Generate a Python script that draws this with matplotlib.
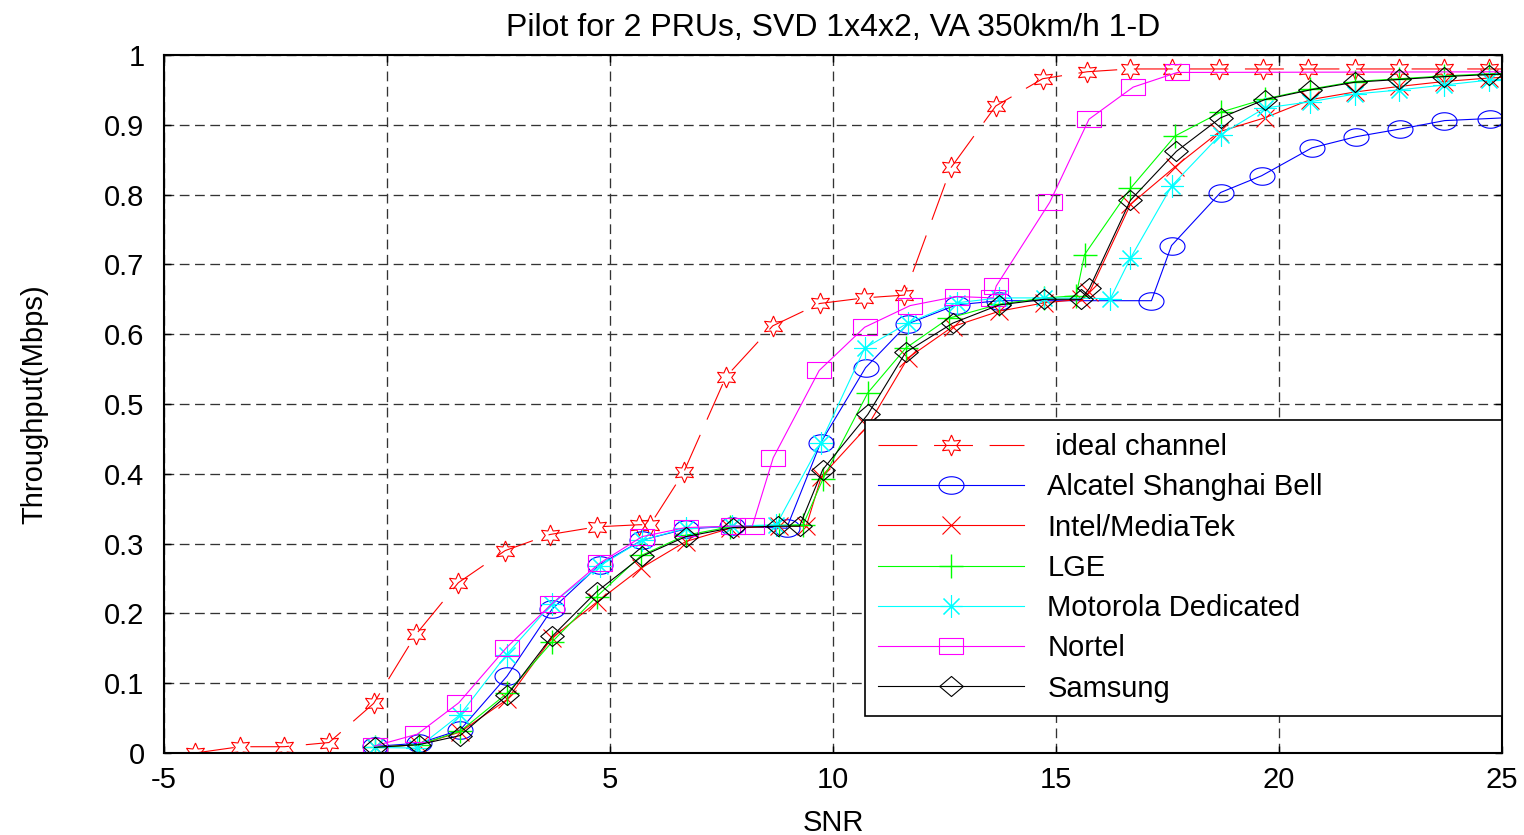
import numpy as np
import matplotlib
matplotlib.use('Agg')
import matplotlib.pyplot as plt
from matplotlib.path import Path

plt.rcParams['font.family'] = ['Liberation Sans', 'DejaVu Sans']
plt.rcParams['lines.scale_dashes'] = False

# ---- data ----
ideal_x = [-4.3, -3.3, -2.3, -1.3, -0.3, 0.65, 1.6, 2.65, 3.65, 4.7, 5.65, 5.9, 6.65,
           7.6, 8.65, 9.7, 10.7, 11.6, 12.65, 13.65, 14.7, 15.7, 16.65, 17.6, 18.65,
           19.65, 20.65, 21.7, 22.7, 23.7, 24.7, 25.7]
ideal_y = [0.0, 0.009, 0.009, 0.015, 0.071, 0.17, 0.244, 0.29, 0.313, 0.324, 0.327, 0.327,
           0.402, 0.539, 0.612, 0.644, 0.652, 0.656, 0.839, 0.927, 0.966, 0.976, 0.98,
           0.98, 0.98, 0.98, 0.98, 0.98, 0.98, 0.98, 0.98, 0.98]

alcatel_x = [-0.28, 0.72, 1.64, 2.69, 3.7, 4.77, 5.72, 6.7, 7.74, 8.96, 9.72, 10.73, 11.68,
             12.77, 13.73, 17.14, 17.59, 18.69, 19.61, 20.74, 21.73, 22.72, 23.71, 24.72, 25.72]
alcatel_y = [0.0095, 0.014, 0.033, 0.11, 0.206, 0.27, 0.305, 0.321, 0.325, 0.322, 0.444, 0.552,
             0.615, 0.642, 0.648, 0.648, 0.727, 0.803, 0.827, 0.867, 0.883, 0.894, 0.906, 0.909, 0.912]

intel_x = [-0.28, 0.72, 1.64, 2.7, 3.7, 4.7, 5.7, 6.7, 7.7, 8.8, 9.4, 9.74, 10.77, 11.68,
           12.69, 13.73, 14.74, 15.56, 15.75, 16.67, 17.67, 18.66, 19.68, 20.7, 21.7, 22.7,
           23.7, 24.7, 25.7]
intel_y = [0.008, 0.012, 0.03, 0.077, 0.165, 0.216, 0.265, 0.303, 0.322, 0.325, 0.325, 0.396,
           0.468, 0.566, 0.611, 0.633, 0.645, 0.65, 0.66, 0.786, 0.84, 0.89, 0.91, 0.936,
           0.947, 0.955, 0.962, 0.967, 0.97]

lge_x = [-0.28, 0.72, 1.64, 2.7, 3.7, 4.7, 5.7, 6.7, 7.7, 8.8, 9.33, 9.77, 10.78, 11.63,
         12.6, 13.73, 14.74, 15.45, 15.64, 16.67, 17.67, 18.69, 19.68, 20.7, 21.7, 22.7,
         23.7, 24.7, 25.7]
lge_y = [0.008, 0.012, 0.031, 0.086, 0.159, 0.224, 0.283, 0.312, 0.324, 0.326, 0.327, 0.392,
         0.516, 0.58, 0.623, 0.643, 0.652, 0.655, 0.714, 0.809, 0.884, 0.918, 0.937, 0.951,
         0.962, 0.966, 0.97, 0.973, 0.975]

moto_x = [-0.28, 0.68, 1.64, 2.68, 3.7, 4.77, 5.72, 6.7, 7.74, 8.73, 9.72, 10.71, 11.68,
          12.77, 13.73, 14.74, 16.22, 16.67, 17.6, 18.69, 19.68, 20.7, 21.7, 22.7, 23.7,
          24.7, 25.7]
moto_y = [0.008, 0.007, 0.055, 0.141, 0.214, 0.268, 0.305, 0.322, 0.325, 0.327, 0.444, 0.58,
          0.616, 0.645, 0.652, 0.652, 0.651, 0.709, 0.813, 0.886, 0.924, 0.933, 0.944, 0.95,
          0.957, 0.964, 0.968]

nortel_x = [-0.28, 0.68, 1.61, 2.68, 3.7, 4.77, 5.72, 6.7, 7.76, 8.19, 8.66, 9.69, 10.71,
            11.73, 12.77, 13.59, 13.66, 14.86, 15.74, 16.73, 17.72, 25.7]
nortel_y = [0.01, 0.027, 0.072, 0.151, 0.214, 0.272, 0.31, 0.323, 0.325, 0.325, 0.423, 0.548,
            0.61, 0.641, 0.654, 0.652, 0.669, 0.789, 0.908, 0.954, 0.975, 0.976]

samsung_x = [-0.28, 0.72, 1.64, 2.7, 3.7, 4.7, 5.72, 6.7, 7.76, 8.77, 9.25, 9.77, 10.78,
             11.63, 12.69, 13.73, 14.74, 15.56, 15.75, 16.67, 17.7, 18.69, 19.68, 20.7,
             21.7, 22.7, 23.7, 24.7, 25.7]
samsung_y = [0.008, 0.012, 0.025, 0.083, 0.167, 0.231, 0.282, 0.31, 0.323, 0.325, 0.325, 0.406,
             0.485, 0.574, 0.616, 0.642, 0.65, 0.65, 0.666, 0.792, 0.862, 0.91, 0.936, 0.95,
             0.961, 0.965, 0.969, 0.972, 0.974]

labels = [' ideal channel', 'Alcatel Shanghai Bell', 'Intel/MediaTek', 'LGE',
          'Motorola Dedicated', 'Nortel', 'Samsung']
xticks = [-5, 0, 5, 10, 15, 20, 25]
xticklabels = ['-5', '0', '5', '10', '15', '20', '25']
yticks = [0, 0.1, 0.2, 0.3, 0.4, 0.5, 0.6, 0.7, 0.8, 0.9, 1]
yticklabels = ['0', '0.1', '0.2', '0.3', '0.4', '0.5', '0.6', '0.7', '0.8', '0.9', '1']

# ---- stretched markers like the matlab export ----
t = np.linspace(0, 2 * np.pi, 60)
ellipse = Path(np.column_stack([np.cos(t), 0.7 * np.sin(t)]), closed=True)
rect = Path([(-1, -0.66), (1, -0.66), (1, 0.66), (-1, 0.66), (-1, -0.66)], closed=True)
diamond = Path([(0, -0.85), (1, 0), (0, 0.85), (-1, 0), (0, -0.85)], closed=True)

fig = plt.figure(figsize=(15.24, 8.35), dpi=100)
ax = fig.add_axes([164 / 1524, 1 - 753 / 835, (1502 - 164) / 1524, (753 - 55) / 835])

lw = 0.8
mew = 0.8
ax.plot(ideal_x, ideal_y, color='red', lw=lw, linestyle=(0, (28, 12)),
        marker=(6, 1, 0), ms=15, mfc='none', mec='red', mew=mew, label=labels[0])
ax.plot(alcatel_x, alcatel_y, color='blue', lw=lw, marker=ellipse, ms=18,
        mfc='none', mec='blue', mew=mew, label=labels[1])
ax.plot(intel_x, intel_y, color='red', lw=lw, marker='x', ms=13,
        mec='red', mew=mew, label=labels[2])
ax.plot(lge_x, lge_y, color='#00ff00', lw=lw, marker='+', ms=17,
        mec='#00ff00', mew=1.0, label=labels[3])
ax.plot(moto_x, moto_y, color='cyan', lw=lw, marker=(8, 2, 0), ms=16,
        mec='cyan', mew=mew, label=labels[4])
ax.plot(nortel_x, nortel_y, color='magenta', lw=lw, marker=rect, ms=17,
        mfc='none', mec='magenta', mew=mew, label=labels[5])
ax.plot(samsung_x, samsung_y, color='black', lw=lw, marker=diamond, ms=17,
        mfc='none', mec='black', mew=mew, label=labels[6])

ax.set_xlim(-5, 25)
ax.set_ylim(0, 1)
ax.set_xticks(xticks)
ax.set_xticklabels(xticklabels)
ax.set_yticks(yticks)
ax.set_yticklabels(yticklabels)
ax.tick_params(direction='in', top=True, right=True, length=5, width=1,
               labelsize=21)
ax.tick_params(axis='y', pad=14)
ax.tick_params(axis='x', pad=9)
ax.grid(True, color='#333333', linestyle=(0, (7, 4)), linewidth=0.95)
for s in ax.spines.values():
    s.set_linewidth(1.5)

ax.set_title('Pilot for 2 PRUs, SVD 1x4x2, VA 350km/h 1-D', fontsize=23, pad=14)
ax.set_xlabel('SNR', fontsize=21, labelpad=11)
ax.set_ylabel('Throughput(Mbps)', fontsize=21, labelpad=40)

leg = ax.legend(loc='upper left', bbox_to_anchor=(0.524, 0.0544, 0.476, 0.4226),
                mode='expand', borderaxespad=0, fontsize=21, handlelength=5.0,
                handletextpad=0.8, labelspacing=0.42, borderpad=0.45,
                fancybox=False, framealpha=1, edgecolor='black')
leg.get_frame().set_linewidth(1.2)

fig.savefig('out.png', dpi=100)
